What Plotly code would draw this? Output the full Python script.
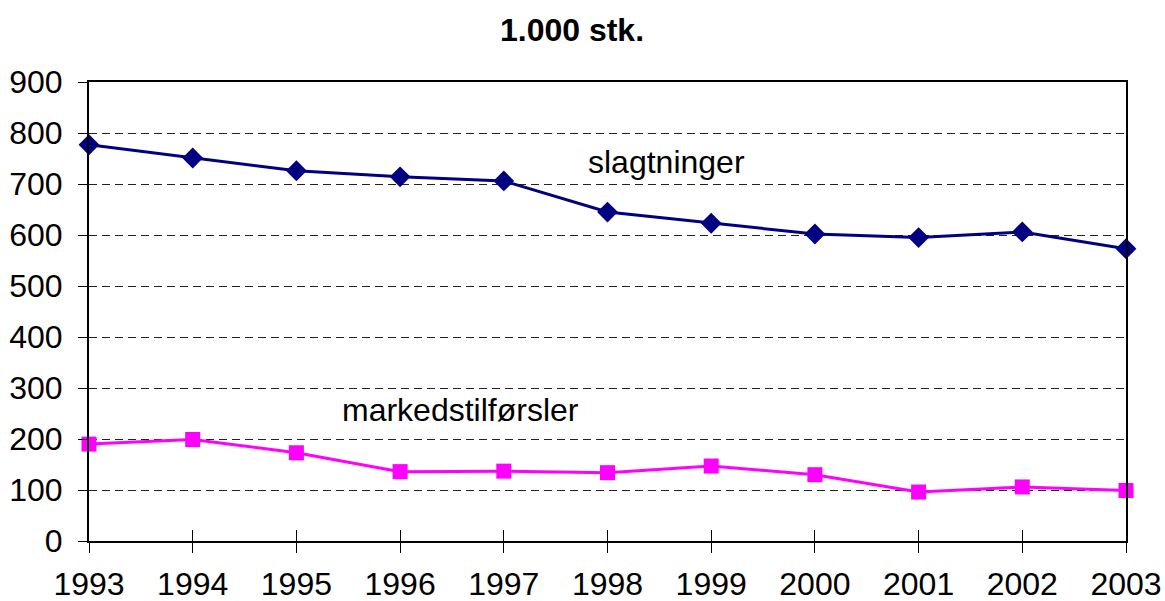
import plotly.graph_objects as go

years = [1993, 1994, 1995, 1996, 1997, 1998, 1999, 2000, 2001, 2002, 2003]
slagtninger = [777, 751, 726, 714, 706, 645, 623, 602, 595, 606, 573]
markedstilforsler = [190, 199, 173, 136, 137, 134, 147, 130, 96, 106, 99]
y_ticks = [0, 100, 200, 300, 400, 500, 600, 700, 800, 900]

FONT = "Liberation Sans, Arial, sans-serif"

W, H = 1165, 601
ML, MR, MT, MB = 89, 39, 82, 60
PW, PH = W - ML - MR, H - MT - MB


def paper_xy(px, py):
    """convert page pixel position to paper coords"""
    x = (px - ML) / PW
    y = 1 - (py - MT) / PH
    return x, y


fig = go.Figure()
fig.add_trace(go.Scatter(
    x=years, y=slagtninger, mode="lines+markers", name="slagtninger",
    line=dict(color="#000080", width=3),
    marker=dict(symbol="diamond", size=16, color="#000080"),
    cliponaxis=False, showlegend=False))
fig.add_trace(go.Scatter(
    x=years, y=markedstilforsler, mode="lines+markers", name="markedstilførsler",
    line=dict(color="#FF00FF", width=3),
    marker=dict(symbol="square", size=15, color="#FF00FF"),
    cliponaxis=False, showlegend=False))
# invisible trace on overlay axis to create crossing ticks
fig.add_trace(go.Scatter(x=[years[0], years[-1]], y=[0, 0], xaxis="x2",
                         mode="markers", marker=dict(opacity=0),
                         showlegend=False, hoverinfo="skip"))

sx, sy = paper_xy(666, 162)
mx, my = paper_xy(460, 410)

fig.update_layout(
    width=W, height=H,
    margin=dict(l=ML, r=MR, t=MT, b=MB, autoexpand=False),
    paper_bgcolor="white", plot_bgcolor="white",
    font=dict(family=FONT, size=32, color="black"),
    title=dict(text="<b>1.000 stk.</b>", x=572 / W, xanchor="center",
               xref="container", y=1 - 30 / H, yanchor="middle",
               font=dict(size=32, family=FONT, color="black")),
    xaxis=dict(range=[years[0], years[-1]], tickvals=years,
               ticktext=[str(y) for y in years], automargin=False,
               showline=True, linecolor="black", linewidth=2, mirror=True,
               ticks="outside", ticklen=10, tickwidth=1, tickcolor="black",
               showgrid=False, zeroline=False, ticklabelstandoff=4,
               tickfont=dict(size=32, family=FONT, color="black")),
    xaxis2=dict(range=[years[0], years[-1]], tickvals=years, overlaying="x",
                anchor="y", side="bottom", ticks="inside", ticklen=11,
                tickwidth=1, tickcolor="black", showticklabels=False,
                showline=False, showgrid=False, zeroline=False,
                automargin=False),
    yaxis=dict(range=[0, 900], tickvals=y_ticks, automargin=False,
               showline=True, linecolor="black", linewidth=2, mirror=True,
               ticks="outside", ticklen=9, tickwidth=1, tickcolor="black",
               showgrid=True, gridcolor="#222222", gridwidth=1,
               griddash="8px,5px", zeroline=False,
               ticklabelstandoff=9,
               tickfont=dict(size=32, family=FONT, color="black")),
    annotations=[
        dict(text="slagtninger", x=sx, y=sy,
             xref="paper", yref="paper", showarrow=False,
             xanchor="center", yanchor="middle",
             font=dict(size=32, family=FONT, color="black")),
        dict(text="markedstilførsler", x=mx, y=my,
             xref="paper", yref="paper", showarrow=False,
             xanchor="center", yanchor="middle",
             font=dict(size=32, family=FONT, color="black")),
    ],
)

fig.write_html(
    "out.html",
    config={"displayModeBar": False},
    post_script="document.body.style.margin='0px';"
                "document.body.style.overflow='hidden';",
)
